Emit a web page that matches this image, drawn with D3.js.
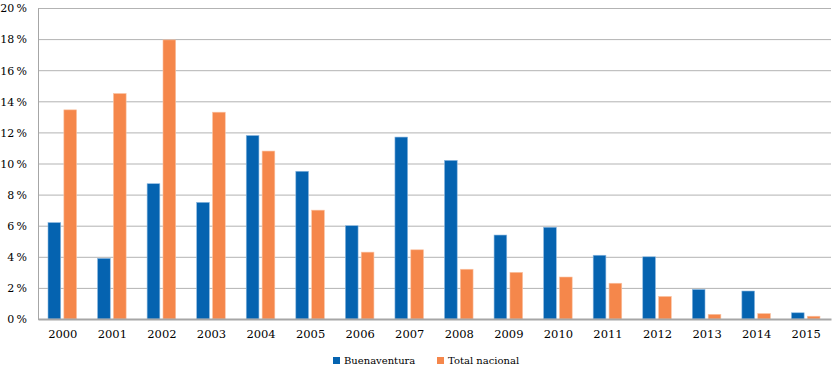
<!DOCTYPE html>
<html>
<head>
<meta charset="utf-8">
<script src="https://cdn.jsdelivr.net/npm/d3@7"></script>
<style>
  body { margin: 0; background: #fff; }
  svg text { font-family: "DejaVu Serif", "Liberation Serif", serif; fill: #000; }
</style>
</head>
<body>
<script>
var years = ['2000','2001','2002','2003','2004','2005','2006','2007','2008','2009','2010','2011','2012','2013','2014','2015'];
var buenaventura = [6.2, 3.9, 8.7, 7.5, 11.8, 9.5, 6.0, 11.7, 10.2, 5.4, 5.9, 4.1, 4.0, 1.9, 1.8, 0.4];
var totalNacional = [13.45, 14.5, 17.95, 13.3, 10.8, 7.0, 4.3, 4.45, 3.2, 3.0, 2.7, 2.3, 1.45, 0.3, 0.35, 0.18];
var yTicks = [0, 2, 4, 6, 8, 10, 12, 14, 16, 18, 20];
var seriesNames = ['Buenaventura', 'Total nacional'];
var colors = ['#0563b0', '#f5874b'];
var edgeColors = ['#8bb8e0', '#fbc3a3'];

var width = 835, height = 369;
var margin = {top: 8, right: 4, bottom: 50, left: 38};
var innerW = width - margin.left - margin.right,
    innerH = 319 - margin.top;

var svg = d3.select('body').append('svg')
    .attr('width', width)
    .attr('height', height);

var g = svg.append('g')
    .attr('transform', 'translate(' + margin.left + ',' + margin.top + ')');

var x = d3.scaleBand().domain(years).range([0, innerW]);
var x1 = d3.scaleBand().domain(seriesNames).range([10, x.bandwidth() - 11]).paddingInner(0.2);
var y = d3.scaleLinear().domain([0, 20]).range([innerH, 0]);

// gridlines
g.append('g')
    .call(d3.axisLeft(y).tickValues(yTicks).tickSize(-innerW).tickFormat(''))
    .call(function(s) {
      s.select('.domain').remove();
      s.selectAll('line').attr('stroke', '#b3b3b3').attr('stroke-width', 1);
    });

// y axis labels
g.append('g')
    .call(d3.axisLeft(y).tickValues(yTicks).tickSize(0).tickPadding(11)
      .tickFormat(function(d) { return d + '\u2009%'; }))
    .call(function(s) {
      s.attr('font-family', null);
      s.select('.domain').attr('stroke', '#a6a6a6');
      s.selectAll('text').style('font-size', '11px').attr('dy', '0.35em');
    });

var datasets = [buenaventura, totalNacional];

datasets.forEach(function(vals, si) {
  g.append('g')
    .selectAll('rect')
    .data(vals)
    .enter()
    .append('rect')
    .attr('x', function(d, i) { return x(years[i]) + x1(seriesNames[si]); })
    .attr('y', function(d) { return y(d); })
    .attr('width', x1.bandwidth())
    .attr('height', function(d) { return innerH - y(d); })
    .attr('fill', colors[si])
    .attr('stroke', edgeColors[si])
    .attr('stroke-width', 0.6);
});

// x axis
g.append('g')
    .attr('transform', 'translate(0,' + innerH + ')')
    .call(d3.axisBottom(x).tickSize(0).tickPadding(11))
    .call(function(s) {
      s.attr('font-family', null);
      s.select('.domain').attr('stroke', '#a6a6a6').attr('stroke-width', 2);
      s.selectAll('text').style('font-size', '11.5px');
    });

// legend
var legend = svg.append('g');
var legendX = [333, 437];
seriesNames.forEach(function(name, i) {
  legend.append('rect')
    .attr('x', legendX[i]).attr('y', 357)
    .attr('width', 7).attr('height', 7)
    .attr('fill', colors[i]);
  legend.append('text')
    .attr('x', legendX[i] + 11).attr('y', 364)
    .style('font-size', '10px')
    .text(name);
});
</script>
</body>
</html>
